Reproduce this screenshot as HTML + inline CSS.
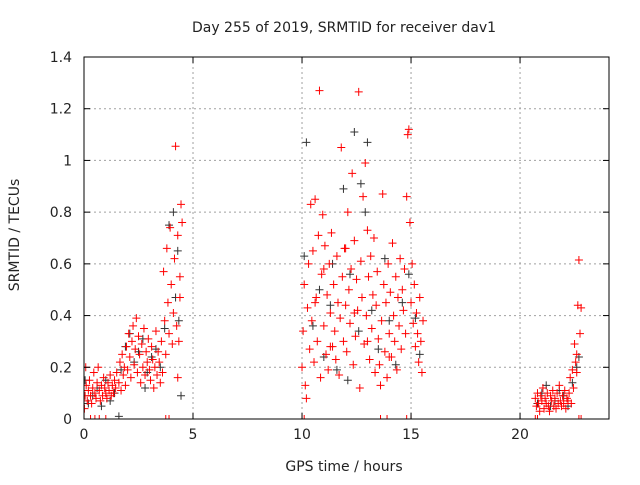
<!DOCTYPE html>
<html><head><meta charset="utf-8"><style>
body{margin:0;background:#fff;}
svg text{font-family:"DejaVu Sans","Liberation Sans",sans-serif;font-size:14px;fill:#222;}
</style></head><body>
<svg id="chart" width="640" height="480" viewBox="0 0 640 480" xmlns="http://www.w3.org/2000/svg">
<rect width="640" height="480" fill="#fff"/>
<defs><clipPath id="pc"><rect x="84" y="57" width="525" height="362"/></clipPath></defs>
<g id="grid"></g>
<g id="black" clip-path="url(#pc)"></g>
<g id="red" clip-path="url(#pc)"></g>
<rect x="84" y="57" width="525" height="362" fill="none" stroke="#000" stroke-width="1"/>
<g id="ticks"></g>
<text x="344" y="32" text-anchor="middle">Day 255 of 2019, SRMTID for receiver dav1</text>
<text x="344" y="471" text-anchor="middle">GPS time / hours</text>
<text x="19" y="235" text-anchor="middle" transform="rotate(-90 19 235)">SRMTID / TECUs</text>
</svg>
<script>
const xTicks=[0,5,10,15,20];
const yTicks=[0,0.2,0.4,0.6,0.8,1,1.2,1.4];
const yTickLabels=["0","0.2","0.4","0.6","0.8","1","1.2","1.4"];
const redX=[0.05,0.1,0.15,0.2,0.25,0.3,0.35,0.4,0.45,0.5,0.55,0.6,0.65,0.7,0.75,0.8,0.85,0.9,0.95,1.0,1.05,1.1,1.15,1.2,1.25,1.3,1.35,1.4,1.45,1.5,1.6,1.65,1.7,1.75,1.8,1.85,1.9,1.95,2.0,2.05,2.1,2.15,2.2,2.25,2.3,2.35,2.4,2.45,2.5,2.55,2.6,2.65,2.7,2.75,2.8,2.85,2.9,2.95,3.0,3.05,3.1,3.15,3.2,3.25,3.3,3.35,3.4,3.45,3.5,3.55,3.6,3.65,3.7,3.75,3.8,3.85,3.9,3.95,4.0,4.05,4.1,4.15,4.2,4.25,4.3,4.35,4.4,4.45,4.5,4.4,4.3,0.02,0.08,
0.3,0.5,0.7,1.0,3.75,3.9,10.0,10.1,13.6,13.9,14.8,15.0,20.7,20.8,22.7,22.8,
10.0,10.05,10.1,10.15,10.2,10.25,10.3,10.35,10.4,10.45,10.5,10.55,10.6,10.65,10.7,10.75,10.8,10.85,10.9,10.95,11.0,11.05,11.1,11.15,11.2,11.25,11.3,11.35,11.4,11.45,11.5,11.55,11.6,11.65,11.7,11.75,11.8,11.85,11.9,11.95,12.0,12.05,12.1,12.15,12.2,12.25,12.3,12.35,12.4,12.45,12.5,12.55,12.6,12.65,12.7,12.75,12.8,12.85,12.9,12.95,13.0,13.05,13.1,13.15,13.2,13.25,13.3,13.35,13.4,13.45,13.5,13.55,13.6,13.65,13.7,13.75,13.8,13.85,13.9,13.95,14.0,14.05,14.1,14.15,14.2,14.25,14.3,14.35,14.4,14.45,14.5,14.55,14.6,14.65,14.7,14.75,14.8,14.85,14.9,14.95,15.0,15.05,15.1,15.15,15.2,15.25,15.3,15.35,15.4,15.45,15.5,15.55,11.0,12.0,13.0,14.0,10.6,11.3,12.4,
20.7,20.75,20.8,20.85,20.9,20.95,21.0,21.05,21.1,21.15,21.2,21.25,21.3,21.35,21.4,21.45,21.5,21.55,21.6,21.65,21.7,21.75,21.8,21.85,21.9,21.95,22.0,22.05,22.1,22.15,22.2,22.25,22.3,22.35,22.4,22.45,22.5,22.55,22.6,22.65,22.7,22.75,22.8,22.6];
const redY=[0.09,0.13,0.07,0.11,0.15,0.09,0.06,0.12,0.18,0.1,0.08,0.14,0.2,0.11,0.07,0.13,0.09,0.16,0.12,0.1,0.08,0.14,0.11,0.17,0.09,0.13,0.1,0.15,0.12,0.18,0.14,0.22,0.11,0.25,0.17,0.2,0.13,0.28,0.19,0.33,0.24,0.16,0.3,0.36,0.21,0.27,0.39,0.18,0.32,0.25,0.14,0.29,0.2,0.35,0.17,0.26,0.22,0.31,0.19,0.15,0.28,0.23,0.12,0.2,0.34,0.17,0.26,0.22,0.14,0.3,0.18,0.57,0.38,0.25,0.66,0.45,0.33,0.74,0.52,0.29,0.41,0.62,1.055,0.36,0.71,0.3,0.55,0.83,0.76,0.47,0.16,0.04,0.2,
0,0,0,0,0,0,0,0,0,0,0,0,0,0,0,0,
0.2,0.34,0.52,0.13,0.08,0.43,0.6,0.27,0.83,0.38,0.65,0.22,0.85,0.47,0.3,0.71,1.27,0.16,0.56,0.79,0.36,0.67,0.25,0.48,0.19,0.6,0.41,0.72,0.28,0.52,0.34,0.23,0.63,0.45,0.17,0.39,1.05,0.55,0.3,0.66,0.44,0.26,0.8,0.5,0.37,0.58,0.95,0.21,0.69,0.32,0.54,0.42,1.265,0.12,0.61,0.47,0.86,0.29,0.99,0.4,0.73,0.55,0.23,0.63,0.35,0.48,0.7,0.18,0.44,0.57,0.31,0.21,0.13,0.38,0.87,0.52,0.26,0.45,0.16,0.6,0.33,0.49,0.24,0.68,0.4,0.3,0.55,0.19,0.47,0.36,0.62,0.27,0.5,0.42,0.58,0.33,0.86,1.1,1.12,0.76,0.45,0.6,0.37,0.52,0.28,0.41,0.33,0.22,0.47,0.3,0.18,0.38,0.58,0.66,0.3,0.24,0.45,0.28,0.41,
0.08,0.05,0.1,0.06,0.03,0.09,0.07,0.12,0.04,0.08,0.06,0.1,0.05,0.03,0.09,0.07,0.11,0.05,0.08,0.04,0.1,0.06,0.13,0.07,0.05,0.09,0.06,0.11,0.04,0.08,0.07,0.1,0.16,0.06,0.19,0.12,0.29,0.22,0.25,0.44,0.615,0.33,0.43,0.18];
const blackX=[0.05,0.2,0.4,0.6,0.8,1.0,1.2,1.4,1.7,1.9,2.1,2.3,2.5,2.7,2.9,3.1,3.3,3.5,3.7,3.9,4.1,4.2,4.35,4.45,4.3,1.6,2.8,
10.1,10.2,10.5,10.8,11.0,11.3,11.6,11.9,12.2,12.4,12.6,12.7,12.9,13.0,13.2,13.5,13.8,14.0,14.3,14.6,14.9,15.2,15.4,11.4,12.1,
20.8,21.0,21.2,21.4,21.6,21.8,22.0,22.2,22.4,22.6,22.7];
const blackY=[0.15,0.06,0.09,0.12,0.05,0.15,0.07,0.1,0.19,0.28,0.33,0.22,0.26,0.31,0.18,0.24,0.27,0.2,0.35,0.75,0.8,0.47,0.38,0.09,0.65,0.01,0.12,
0.63,1.07,0.36,0.5,0.24,0.44,0.19,0.89,0.56,1.11,0.34,0.91,0.8,1.07,0.42,0.27,0.62,0.38,0.21,0.45,0.56,0.39,0.25,0.6,0.15,
0.06,0.1,0.13,0.05,0.07,0.11,0.09,0.05,0.14,0.2,0.24];

const X0=84,X1=609,Y0=419,Y1=57,XMAX=24.08,YMAX=1.4;
const sx=v=>X0+v/XMAX*(X1-X0);
const sy=v=>Y0-v/YMAX*(Y0-Y1);
const NS="http://www.w3.org/2000/svg";
function mk(tag,attrs,parent){const e=document.createElementNS(NS,tag);for(const k in attrs)e.setAttribute(k,attrs[k]);parent.appendChild(e);return e;}
const grid=document.getElementById('grid'),ticks=document.getElementById('ticks');
xTicks.forEach(t=>{
  const x=sx(t);
  if(t>0){const g=mk('line',{x1:x,x2:x,y1:Y1,y2:Y0,stroke:'#a0a0a0','stroke-dasharray':'2,3'},grid);
  
  }
  mk('line',{x1:x,x2:x,y1:Y0,y2:Y0-6,stroke:'#000'},ticks);
  mk('line',{x1:x,x2:x,y1:Y1,y2:Y1+6,stroke:'#000'},ticks);
  const l=mk('text',{x:x,y:Y0+20,'text-anchor':'middle'},ticks);l.textContent=t;
  
  
});
yTicks.forEach((t,i)=>{
  const y=sy(t);
  if(t>0&&t<1.4){const g=mk('line',{x1:X0,x2:X1,y1:y,y2:y,stroke:'#a0a0a0','stroke-dasharray':'2,3'},grid);
  
  }
  mk('line',{x1:X0,x2:X0+6,y1:y,y2:y,stroke:'#000'},ticks);
  mk('line',{x1:X1,x2:X1-6,y1:y,y2:y,stroke:'#000'},ticks);
  const l=mk('text',{x:X0-12,y:y+5,'text-anchor':'end'},ticks);l.textContent=yTickLabels[i];
  
  
});
function plot(xs,ys,g,col,name){
  for(let i=0;i<xs.length;i++){
    const x=sx(xs[i]),y=sy(ys[i]);
    const p=mk('path',{d:`M${x-4},${y}H${x+4}M${x},${y-4}V${y+4}`,stroke:col,'stroke-width':1,fill:'none'},g);
    
    
  }
}
plot(blackX,blackY,document.getElementById('black'),'#333','point-black');
plot(redX,redY,document.getElementById('red'),'#f00','point-red');
</script>
</body></html>
